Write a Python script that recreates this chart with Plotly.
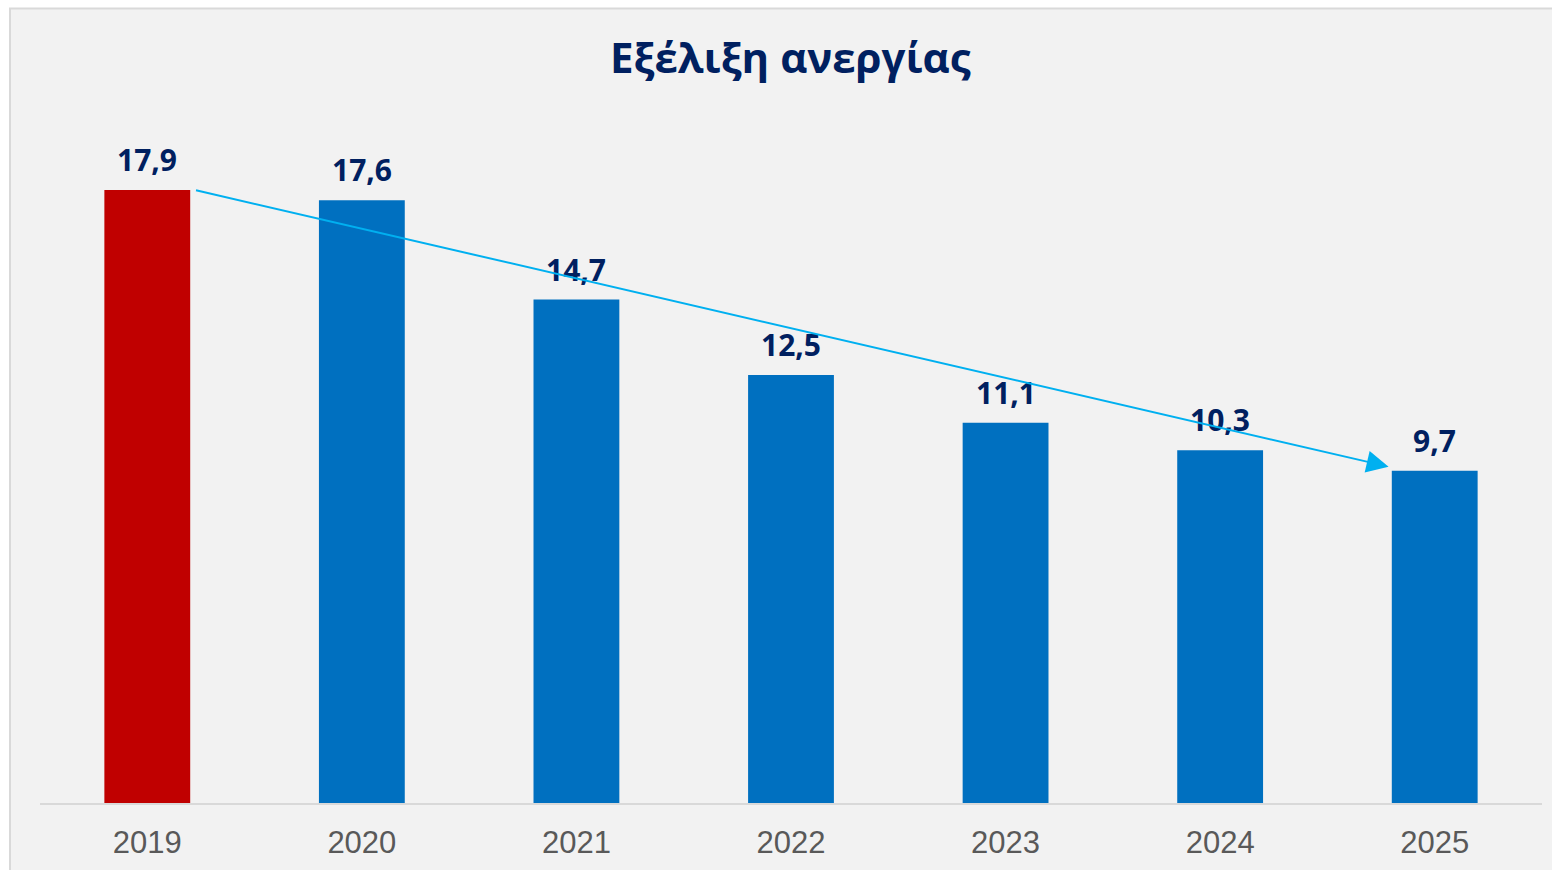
import plotly.graph_objects as go

years = ["2019", "2020", "2021", "2022", "2023", "2024", "2025"]
values = [17.9, 17.6, 14.7, 12.5, 11.1, 10.3, 9.7]
bar_colors = ["#C00000"] + ["#0070C0"] * 6
labels = [f"{v:.1f}".replace(".", ",") for v in values]
title_text = "Εξέλιξη ανεργίας"

W, H = 1552, 870
ml, mr, mt, mb = 39.5, 9.5, 118, 67
bar_w = 0.4

fig = go.Figure(go.Bar(
    x=list(range(len(years))), y=values,
    marker=dict(color=bar_colors, line=dict(width=0)),
    width=bar_w, hoverinfo="skip",
))

annotations = []
for i, (v, t) in enumerate(zip(values, labels)):
    annotations.append(dict(
        x=i, y=v, xref="x", yref="y", text=f"<b>{t}</b>", showarrow=False,
        yanchor="bottom", yshift=8,
        font=dict(family="'Open Sans', sans-serif", size=30, color="#002060"),
    ))

# trend arrow from top of first bar to last bar
n = len(values)
annotations.append(dict(
    x=(n - 1) - bar_w / 2 - 0.015, y=values[-1] + 0.12, xref="x", yref="y",
    ax=bar_w / 2 + 0.02, ay=values[0], axref="x", ayref="y",
    text="", showarrow=True, arrowhead=2, arrowsize=2.2, arrowwidth=2,
    arrowcolor="#00B0F0", standoff=0, startstandoff=0,
))

annotations.append(dict(
    x=(790 - ml) / (W - ml - mr), y=(H - mb - 56) / (H - mt - mb),
    xref="paper", yref="paper", text=f"<b>{title_text}</b>", showarrow=False,
    xanchor="center", yanchor="middle",
    font=dict(family="'Open Sans', sans-serif", size=42, color="#002060"),
))

pw = W - ml - mr
ph = H - mt - mb
fig.update_layout(
    width=W, height=H,
    margin=dict(l=ml, r=mr, t=mt, b=mb, pad=0, autoexpand=False),
    paper_bgcolor="white",
    plot_bgcolor="rgba(0,0,0,0)",
    showlegend=False,
    annotations=annotations,
    shapes=[dict(
        type="rect", xref="paper", yref="paper", layer="below",
        x0=(9.5 - ml) / pw, x1=(W + 20 - ml) / pw,
        y0=(H - mb - 8.5) / ph, y1=(H - mb - H - 20) / ph,
        fillcolor="#F2F2F2", line=dict(color="#D9D9D9", width=2),
    )],
    xaxis=dict(
        tickmode="array", tickvals=list(range(len(years))), ticktext=years,
        range=[-0.5, len(years) - 0.5], automargin=False,
        showgrid=False, zeroline=False, showline=True, linecolor="#D9D9D9", linewidth=2,
        ticks="", ticklabelstandoff=11,
        tickfont=dict(family="Liberation Sans, Arial, sans-serif", size=31, color="#595959"),
    ),
    yaxis=dict(range=[0, 20], visible=False, showgrid=False, zeroline=False, automargin=False),
)

fig.write_html(
    "out.html",
    config={"displayModeBar": False},
    post_script="document.body.style.margin='0';document.body.style.overflow='hidden';",
)
